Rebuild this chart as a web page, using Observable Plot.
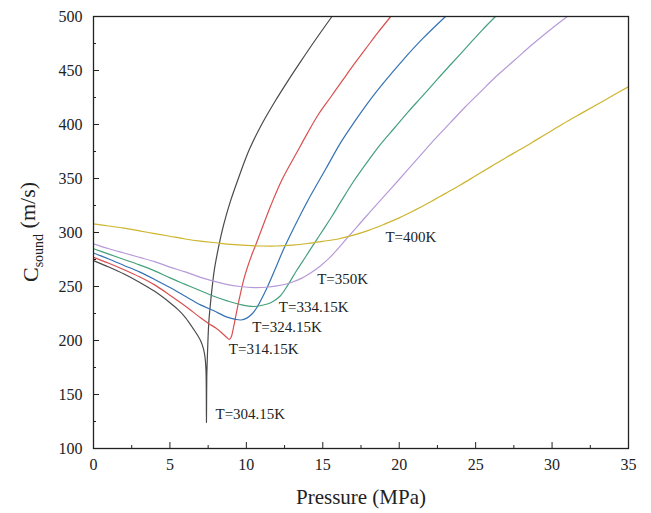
<!DOCTYPE html>
<html><head><meta charset="utf-8">
<script src="https://cdn.jsdelivr.net/npm/d3@7"></script>
<script src="https://cdn.jsdelivr.net/npm/@observablehq/plot@0.6"></script>
<style>body{margin:0;background:#fff}#chart{width:651px;height:513px}#chart text{font-family:"Liberation Serif","DejaVu Serif",serif}</style>
</head><body><div id="chart"></div>
<script>
// tick values
const xTicks = [0, 5, 10, 15, 20, 25, 30, 35];
const xMinor = [2.5, 7.5, 12.5, 17.5, 22.5, 27.5, 32.5];
const yTicks = [100, 150, 200, 250, 300, 350, 400, 450, 500];
const yMinor = [125, 175, 225, 275, 325, 375, 425, 475];

// series: [pressure MPa, sound speed m/s]
const t304 = [[0,274],[1,268],[2,261.5],[3,254],[4,245.5],[5,235],[5.5,229],[6,221.5],[6.5,211.5],[7,200],[7.2,192],[7.3,184],[7.36,172],[7.39,124],[7.41,165],[7.45,185],[7.54,216],[7.65,234],[7.76,249],[7.9,265],[8.09,280],[8.31,295],[8.53,308],[8.96,329],[9.5,351],[10.2,377],[11,400],[11.9,422],[12.7,440],[13.54,458],[14.5,478],[15.6,500]];
const t314 = [[0,277],[1,271.5],[2,265.5],[3,259],[4,251.5],[5,242],[6,232],[6.5,226.5],[7,221],[7.5,216],[8,211.5],[8.4,207],[8.7,203],[8.88,201],[9.0,203],[9.2,215],[9.5,236],[9.9,260],[10.4,281],[10.6,288],[11,303],[11.6,325],[12.3,348],[13.3,374],[14,392],[14.7,409],[15.5,425],[16.3,441],[17,455],[17.8,470],[18.6,485],[19.45,500]];
const t324 = [[0,281],[1,275.5],[2,269.5],[3,263.5],[4,256.5],[5,249],[6,241],[7,233],[7.87,227.5],[8.75,221.6],[9.3,219.5],[9.65,219],[10,220.5],[10.4,225],[10.71,231],[11.36,249],[12,270],[12.45,285],[13.2,307],[14,329],[15.2,359],[16.16,383],[17,401],[18,421],[19,439],[20.2,459],[21.5,479],[23.03,500]];
const t334 = [[0,285],[1,280],[2,275],[3,270],[4,264.5],[5,258],[6,252],[7,246],[7.87,241],[8.8,236.5],[9.7,233],[10.5,231.5],[11,232.5],[11.6,235],[12.2,241],[12.7,251],[13.3,265],[13.9,278],[14.4,289],[15.1,304],[15.6,315],[16.2,329],[17,347],[18,367],[18.8,382],[19.7,397],[20.6,412],[21.5,426],[22.5,442],[23.4,456],[24.5,473],[25.4,487],[26.3,500]];
const t350 = [[0,289.5],[1,285],[2,281],[3,277],[4,273],[5,268],[6,263.5],[7,258.5],[7.85,255],[8.7,252],[9.6,250],[10.5,249],[11.3,249.3],[12,250.5],[12.9,253.5],[13.6,257.5],[14.2,262.5],[14.8,268.5],[15.4,276],[16,285],[16.6,295],[17.5,309.5],[18.4,324],[19.3,338],[20.3,354],[21.3,370],[22.3,386],[23.3,401],[24.3,416],[25.3,430],[26.3,444],[27.5,459],[28.7,474],[29.9,488],[31,500]];
const t400 = [[0,308],[1,306],[2,304],[3,301.5],[4,299],[5,296.5],[6,294],[7,292],[8,290.5],[9,289],[10,288],[11,287.5],[12,287.5],[13,288.3],[14,289.8],[15,291.8],[16,294],[17,297.5],[18,302],[19,307.5],[20,313.5],[21,320.5],[22,328],[23,336],[24,344],[25,352.5],[26,361],[27,369.5],[28,377.5],[29,386],[30,394.5],[31,403],[32,411],[33,419],[34,427],[35,435]];

const seriesData = [t304, t314, t324, t334, t350, t400];
const seriesColors = ["#4a4a4a", "#d9504f", "#3572b3", "#45a07c", "#b79ad8", "#cdb52e"];

// curve labels
const labelText = ["T=304.15K", "T=314.15K", "T=324.15K", "T=334.15K", "T=350K", "T=400K"];
const labelP = [7.98, 8.85, 10.38, 12.12, 14.63, 19.1];
const labelC = [132, 192, 212, 231, 256.5, 296];
const labels = labelText.map((t, i) => ({t, p: labelP[i], c: labelC[i]}));

const font = "Liberation Serif, DejaVu Serif, serif";

const lineMarks = seriesData.map((pts, i) =>
  Plot.line(pts, {x: d => d[0], y: d => d[1], stroke: seriesColors[i], strokeWidth: 1.2, curve: "catmull-rom", clip: true})
);

const chart = Plot.plot({
  width: 651, height: 513,
  marginLeft: 93, marginRight: 23, marginTop: 16, marginBottom: 65,
  style: {fontFamily: font, fontSize: "16px", color: "#222", background: "#fff"},
  x: {domain: [0, 35]},
  y: {domain: [100, 500]},
  marks: [
    ...lineMarks,
    Plot.text(labels, {x: "p", y: "c", text: "t", textAnchor: "start", fontSize: 15, fontFamily: font, fill: "#222"}),
    Plot.axisX({ticks: xTicks, tickSize: -6, tickPadding: 16, fontSize: 16, fontFamily: font, label: null, stroke: "#222"}),
    Plot.axisX({ticks: xMinor, tickSize: -3, tickFormat: () => "", label: null, stroke: "#222"}),
    Plot.axisY({ticks: yTicks, tickSize: -6, tickPadding: 17, fontSize: 16, fontFamily: font, label: null, stroke: "#222"}),
    Plot.axisY({ticks: yMinor, tickSize: -3, tickFormat: () => "", label: null, stroke: "#222"}),
    Plot.frame({stroke: "#222", strokeWidth: 1.3})
  ]
});

document.getElementById("chart").appendChild(chart);

const svg = d3.select(chart.tagName.toLowerCase() === "svg" ? chart : chart.querySelector("svg"));
svg.selectAll("text").style("font-family", font);

// x-axis title
svg.append("text")
  .attr("x", 361).attr("y", 504)
  .attr("text-anchor", "middle")
  .style("font-family", font)
  .attr("font-size", 21)
  .attr("fill", "#222")
  .text("Pressure (MPa)");

// y-axis title with subscript
const yt = svg.append("text")
  .attr("transform", "translate(38,232) rotate(-90)")
  .attr("text-anchor", "middle")
  .style("font-family", font)
  .attr("font-size", 22)
  .attr("fill", "#222");
yt.append("tspan").text("C");
yt.append("tspan").attr("font-size", 14).attr("dy", "0.35em").text("sound");
yt.append("tspan").attr("dy", "-0.35em").text(" (m/s)");
</script>
</body></html>
